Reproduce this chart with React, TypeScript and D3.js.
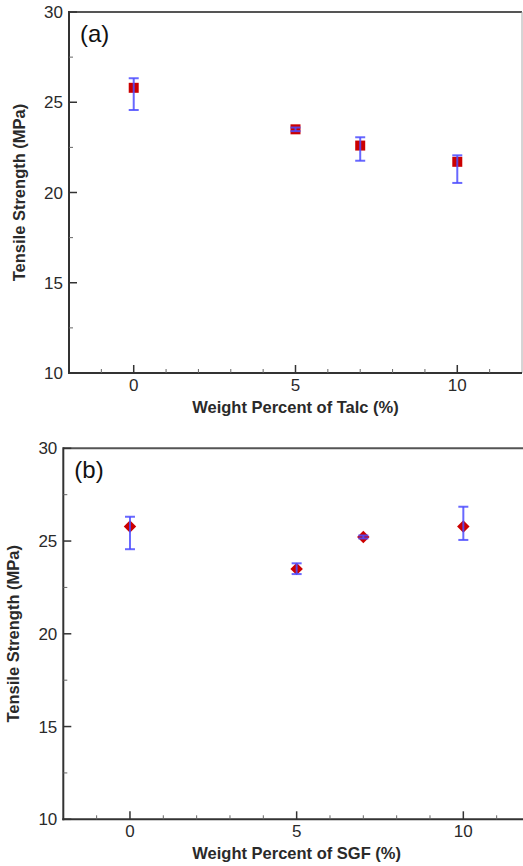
import React from "react";
import * as d3 from "d3";

const talcX = [0, 5, 7, 10];
const talcMean = [25.8, 23.5, 22.6, 21.7];
const talcUpper = [26.33, 23.6, 23.06, 22.06];
const talcLower = [24.57, 23.4, 21.76, 20.53];

const sgfX = [0, 5, 7, 10];
const sgfMean = [25.78, 23.5, 25.22, 25.78];
const sgfUpper = [26.31, 23.8, 25.3, 26.85];
const sgfLower = [24.56, 23.22, 25.14, 25.06];

const xMajorTicks = [0, 5, 10];
const xMinorTicks = [-1, 1, 2, 3, 4, 6, 7, 8, 9, 11];
const yMajorTicks = [10, 15, 20, 25, 30];
const yMinorTicks = [12.5, 17.5, 22.5, 27.5];
const xDomain: [number, number] = [-2, 12];
const yDomain: [number, number] = [10, 30];

const FONT = "'Liberation Sans', Arial, Helvetica, sans-serif";

type PanelProps = {
  left: number;
  right: number;
  top: number;
  bottom: number;
  xs: number[];
  mean: number[];
  upper: number[];
  lower: number[];
  label: string;
  xTitle: string;
  marker: "square" | "diamond";
  yTitleX: number;
  showRight: boolean;
};

function Panel(p: PanelProps) {
  const x = d3.scaleLinear().domain(xDomain).range([p.left, p.right]);
  const y = d3.scaleLinear().domain(yDomain).range([p.bottom, p.top]);
  const axisColor = "#333";
  const textColor = "#2a2a2a";
  const sym =
    p.marker === "square"
      ? d3.symbol(d3.symbolSquare, 100)()
      : d3.symbol(d3.symbolSquare, 78)();
  const rot = p.marker === "diamond" ? 45 : 0;
  return (
    <g>
      {/* frame */}
      <line x1={p.left} x2={p.right} y1={p.top} y2={p.top} stroke="#555" strokeWidth={2} />
      {p.showRight && (
        <line x1={p.right} x2={p.right} y1={p.top} y2={p.bottom} stroke="#aaa" strokeWidth={1} />
      )}
      <line x1={p.left} x2={p.left} y1={p.top - 1} y2={p.bottom + 1} stroke={axisColor} strokeWidth={2} />
      <line x1={p.left - 1} x2={p.right} y1={p.bottom} y2={p.bottom} stroke={axisColor} strokeWidth={2} />
      {/* x ticks */}
      {xMajorTicks.map((t) => (
        <g key={"xm" + t}>
          <line x1={x(t)} x2={x(t)} y1={p.bottom} y2={p.bottom - 8} stroke={axisColor} strokeWidth={1.5} />
          <text x={x(t)} y={p.bottom + 18} textAnchor="middle" fontSize={17} fontFamily={FONT} fill={textColor}>
            {t}
          </text>
        </g>
      ))}
      {xMinorTicks.map((t) => (
        <line key={"xn" + t} x1={x(t)} x2={x(t)} y1={p.bottom} y2={p.bottom - 4} stroke="#666" strokeWidth={1} />
      ))}
      {/* y ticks */}
      {yMajorTicks.map((t) => (
        <g key={"ym" + t}>
          <line x1={p.left} x2={p.left + 8} y1={y(t)} y2={y(t)} stroke={axisColor} strokeWidth={1.5} />
          <text x={p.left - 6} y={y(t) + 6} textAnchor="end" fontSize={17} fontFamily={FONT} fill={textColor}>
            {t}
          </text>
        </g>
      ))}
      {yMinorTicks.map((t) => (
        <line key={"yn" + t} x1={p.left} x2={p.left + 4} y1={y(t)} y2={y(t)} stroke="#666" strokeWidth={1} />
      ))}
      {/* panel label */}
      <text x={p.left + 11} y={p.top + 30} fontSize={24} fontFamily={FONT} fill="#111">
        {p.label}
      </text>
      {/* axis titles */}
      <text
        x={(x(0) + x(10)) / 2}
        y={p.bottom + 40}
        textAnchor="middle"
        fontSize={16.5}
        fontWeight="bold"
        fontFamily={FONT}
        fill={textColor}
      >
        {p.xTitle}
      </text>
      <text
        transform={`translate(${p.yTitleX},${(p.top + p.bottom) / 2}) rotate(-90)`}
        textAnchor="middle"
        fontSize={16.5}
        fontWeight="bold"
        fontFamily={FONT}
        fill={textColor}
      >
        Tensile Strength (MPa)
      </text>
      {/* markers */}
      {p.xs.map((v, i) => (
        <path
          key={"mk" + i}
          d={sym || ""}
          transform={`translate(${x(v)},${y(p.mean[i])}) rotate(${rot})`}
          fill="#cc0000"
        />
      ))}
      {/* error bars */}
      {p.xs.map((v, i) => (
        <g key={"eb" + i} stroke="#4d4dff" strokeWidth={2} strokeOpacity={0.85}>
          <line x1={x(v)} x2={x(v)} y1={y(p.upper[i])} y2={y(p.lower[i])} />
          <line x1={x(v) - 5} x2={x(v) + 5} y1={y(p.upper[i])} y2={y(p.upper[i])} />
          <line x1={x(v) - 5} x2={x(v) + 5} y1={y(p.lower[i])} y2={y(p.lower[i])} />
        </g>
      ))}
    </g>
  );
}

export default function App() {
  return (
    <svg
      width={523}
      height={866}
      style={{ position: "absolute", left: 0, top: 0, background: "#fff" }}
    >
      <rect x={0} y={0} width={523} height={866} fill="#fff" />
      <Panel
        left={69}
        right={522}
        top={12}
        bottom={373}
        xs={talcX}
        mean={talcMean}
        upper={talcUpper}
        lower={talcLower}
        label="(a)"
        xTitle="Weight Percent of Talc (%)"
        marker="square"
        yTitleX={25}
        showRight={true}
      />
      <Panel
        left={63.3}
        right={530}
        top={448.3}
        bottom={819.3}
        xs={sgfX}
        mean={sgfMean}
        upper={sgfUpper}
        lower={sgfLower}
        label="(b)"
        xTitle="Weight Percent of SGF (%)"
        marker="diamond"
        yTitleX={19}
        showRight={false}
      />
    </svg>
  );
}
